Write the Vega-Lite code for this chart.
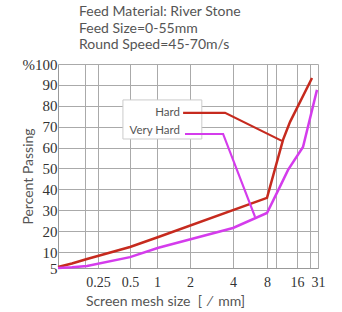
{
  "$schema": "https://vega.github.io/schema/vega-lite/v6.json",
  "width": 260,
  "height": 204,
  "autosize": "none",
  "padding": {"left": 58, "top": 64, "right": 24, "bottom": 44},
  "background": "white",
  "title": {
    "text": ["Feed Material: River Stone", "Feed Size=0-55mm", "Round Speed=45-70m/s"],
    "anchor": "start",
    "frame": "group",
    "dx": 21,
    "offset": 5,
    "font": "Lato",
    "fontSize": 14,
    "fontWeight": "normal",
    "color": "#555555",
    "lineHeight": 16.5
  },
  "config": {
    "view": {"stroke": null},
    "axis": {
      "grid": true,
      "gridColor": "#aaaaaa",
      "gridWidth": 1,
      "ticks": false,
      "tickCount": 40,
      "domainColor": "#999999",
      "labelFont": "Liberation Serif",
      "labelColor": "#333333",
      "titleFont": "Lato",
      "titleFontWeight": "normal",
      "titleColor": "#555555",
      "titleFontSize": 14
    }
  },
  "datasets": {
    "curves": [
      {"series": "Hard", "part": "curve", "size": 0.1, "pass": 5.3},
      {"series": "Hard", "part": "curve", "size": 0.143, "pass": 6.4},
      {"series": "Hard", "part": "curve", "size": 0.207, "pass": 7.8},
      {"series": "Hard", "part": "curve", "size": 0.5, "pass": 12.4},
      {"series": "Hard", "part": "curve", "size": 1.03, "pass": 17.2},
      {"series": "Hard", "part": "curve", "size": 8, "pass": 35.9},
      {"series": "Hard", "part": "curve", "size": 11.7, "pass": 63.7},
      {"series": "Hard", "part": "curve", "size": 13.7, "pass": 72.3},
      {"series": "Hard", "part": "curve", "size": 25.6, "pass": 93.3},
      {"series": "Very Hard", "part": "curve", "size": 0.1, "pass": 5.0},
      {"series": "Very Hard", "part": "curve", "size": 0.143, "pass": 5.2},
      {"series": "Very Hard", "part": "curve", "size": 0.207, "pass": 5.6},
      {"series": "Very Hard", "part": "curve", "size": 0.5, "pass": 8.4},
      {"series": "Very Hard", "part": "curve", "size": 1.03, "pass": 12.0},
      {"series": "Very Hard", "part": "curve", "size": 4, "pass": 21.5},
      {"series": "Very Hard", "part": "curve", "size": 8, "pass": 28.7},
      {"series": "Very Hard", "part": "curve", "size": 10.9, "pass": 41.2},
      {"series": "Very Hard", "part": "curve", "size": 13.1, "pass": 49.3},
      {"series": "Very Hard", "part": "curve", "size": 19.3, "pass": 60.3},
      {"series": "Very Hard", "part": "curve", "size": 30, "pass": 87.6},
      {"series": "Hard", "part": "leader", "size": 1.73, "pass": 76.6},
      {"series": "Hard", "part": "leader", "size": 3.52, "pass": 76.6},
      {"series": "Hard", "part": "leader", "size": 11.4, "pass": 63.2},
      {"series": "Very Hard", "part": "leader", "size": 1.8, "pass": 66.5},
      {"series": "Very Hard", "part": "leader", "size": 3.41, "pass": 66.5},
      {"series": "Very Hard", "part": "leader", "size": 6.27, "pass": 26.8}
    ],
    "box": [{"x1": 0.429, "x2": 2.42, "y1": 64.1, "y2": 82.8}],
    "labels": [
      {"series": "Hard", "size": 1.62, "pass": 76.6},
      {"series": "Very Hard", "size": 1.62, "pass": 68}
    ]
  },
  "layer": [
    {
      "data": {"name": "box"},
      "mark": {"type": "rect", "fill": "white", "stroke": "#cccccc", "strokeWidth": 1},
      "encoding": {
        "x": {"field": "x1", "type": "quantitative", "scale": {"type": "log", "domain": [0.1, 0.2, 0.25, 0.5, 1, 2, 4, 8, 10, 16, 24, 31], "range": [0, 27, 40, 72, 99, 132, 175, 209, 218, 239, 252, 260], "nice": false},
          "axis": {
            "values": [0.2, 0.25, 0.5, 1, 2, 4, 8, 10, 16, 24, 31],
            "labelExpr": "datum.value == 0.2 || datum.value == 10 || datum.value == 24 ? '' : toString(datum.value)",
            "labelFontSize": 14,
            "labelPadding": 7,
            "labelFlush": false,
            "labelOverlap": false,
            "tickCount": 40,
            "title": "Screen mesh size\u00a0\u00a0[\u00a0\u00a0⁄\u00a0\u00a0mm]",
            "titleX": 107,
            "titleY": 33,
            "titleAlign": "center",
            "titleBaseline": "middle"
          }},
        "x2": {"field": "x2"},
        "y": {"field": "y1", "type": "quantitative", "scale": {"domain": [5, 10, 100], "range": [204, 188, 0], "nice": false, "zero": false},
          "axis": {
            "values": [5, 10, 20, 30, 40, 50, 60, 70, 80, 90, 100],
            "labelExpr": "datum.value == 100 ? '%100' : toString(datum.value)",
            "labelFontSize": 15,
            "labelPadding": 1,
            "labelFlush": false,
            "labelOverlap": false,
            "tickCount": 40,
            "title": "Percent Passing",
            "titleX": -30,
            "titleY": 112,
            "titleAngle": -90,
            "titleAlign": "center",
            "titleBaseline": "middle"
          }},
        "y2": {"field": "y2"}
      }
    },
    {
      "data": {"name": "curves"},
      "transform": [{"filter": "datum.part == 'curve'"}],
      "mark": {"type": "line", "strokeWidth": 2.5},
      "encoding": {
        "x": {"field": "size", "type": "quantitative"},
        "y": {"field": "pass", "type": "quantitative"},
        "color": {"field": "series", "type": "nominal", "scale": {"domain": ["Hard", "Very Hard"], "range": ["#c62a1e", "#d43cec"]}, "legend": null},
        "detail": {"field": "part"}
      }
    },
    {
      "data": {"name": "curves"},
      "transform": [{"filter": "datum.part == 'leader'"}],
      "mark": {"type": "line", "strokeWidth": 2.2},
      "encoding": {
        "x": {"field": "size", "type": "quantitative"},
        "y": {"field": "pass", "type": "quantitative"},
        "color": {"field": "series", "type": "nominal", "legend": null},
        "detail": {"field": "part"}
      }
    },
    {
      "data": {"name": "labels"},
      "mark": {"type": "text", "align": "right", "baseline": "middle", "font": "Lato", "fontSize": 11.5, "color": "#555555"},
      "encoding": {
        "x": {"field": "size", "type": "quantitative"},
        "y": {"field": "pass", "type": "quantitative"},
        "text": {"field": "series"}
      }
    }
  ]
}
